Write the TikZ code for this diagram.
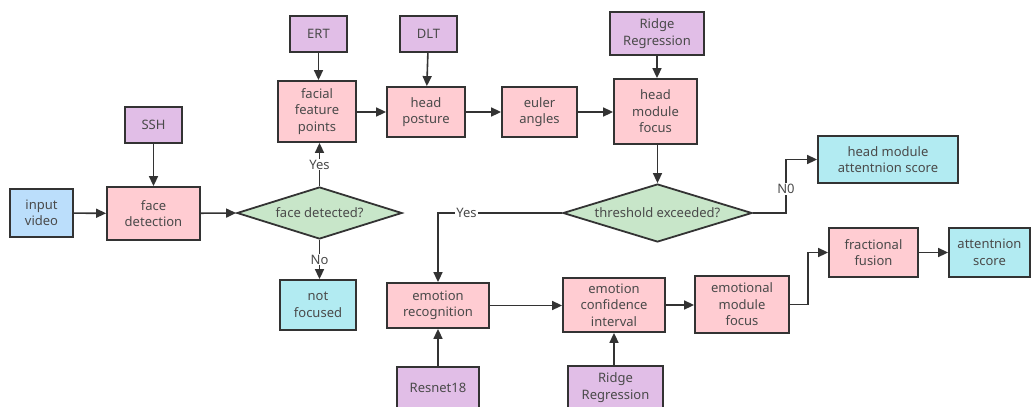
\documentclass[tikz,border=0pt]{standalone}
\usepackage{fontspec}
\setmainfont{Noto Sans}
\usetikzlibrary{shapes.geometric,arrows.meta}
\definecolor{pinkf}{HTML}{FFCCD2}
\definecolor{purpf}{HTML}{E1BEE7}
\definecolor{bluef}{HTML}{BBDEFB}
\definecolor{cyanf}{HTML}{B2EBF2}
\definecolor{greenf}{HTML}{C8E6C9}
\definecolor{edgec}{HTML}{333333}
\definecolor{txtc}{HTML}{4A4A4A}
\tikzset{
  base/.style={draw=edgec, line width=1.8pt, text=txtc, font=\fontsize{13}{16.5}\selectfont, align=center, inner sep=0pt},
  proc/.style={base, rectangle, fill=pinkf},
  tool/.style={base, rectangle, fill=purpf},
  inbox/.style={base, rectangle, fill=bluef},
  outbox/.style={base, rectangle, fill=cyanf},
  decide/.style={base, diamond, fill=greenf, aspect=3},
  arr/.style={draw=edgec, line width=1.6pt, -{Triangle[length=10pt,width=9pt]}},
  lbl/.style={fill=white, text=txtc, font=\fontsize{13}{14}\selectfont, inner sep=1pt}
}
\begin{document}
\begin{tikzpicture}[x=1pt,y=-1pt]
\useasboundingbox (0,0) rectangle (1034,407);
\clip (0,0) rectangle (1034,407);
\fill[white] (0,0) rectangle (1034,407);

\node[inbox, minimum width=63pt, minimum height=48pt] (input) at (41.5,213) {input\\video};
\node[proc, minimum width=93pt, minimum height=53pt] (fd) at (153.5,213.5) {face\\detection};
\node[tool, minimum width=57pt, minimum height=36pt] (ssh) at (153.5,125) {SSH};
\node[decide, minimum width=165pt, minimum height=52pt, label={[text=txtc, font=\fontsize{13}{14}\selectfont]center:face detected?}] (fdq) at (319.5,213) {};
\node[outbox, minimum width=76pt, minimum height=50pt] (nf) at (318,305) {not\\focused};
\node[proc, minimum width=78pt, minimum height=61pt] (ffp) at (317,111.5) {facial\\feature\\points};
\node[tool, minimum width=57pt, minimum height=36pt] (ert) at (318.5,34) {ERT};
\node[proc, minimum width=78pt, minimum height=50pt] (hp) at (426,112) {head\\posture};
\node[tool, minimum width=57pt, minimum height=36pt] (dlt) at (428.5,34) {DLT};
\node[proc, minimum width=75pt, minimum height=50pt] (ea) at (539.5,112) {euler\\angles};
\node[proc, minimum width=83pt, minimum height=65pt] (hmf) at (655.5,111.5) {head\\module\\focus};
\node[tool, minimum width=94pt, minimum height=43pt] (rr1) at (657,33.5) {Ridge\\Regression};
\node[decide, minimum width=189pt, minimum height=58pt, label={[text=txtc, font=\fontsize{13}{14}\selectfont]center:threshold exceeded?}] (thq) at (657.5,213) {};
\node[outbox, minimum width=140pt, minimum height=47pt] (hmas) at (888,159.5) {head module\\attentnion score};
\node[proc, minimum width=102pt, minimum height=45pt] (er) at (438,305.5) {emotion\\recognition};
\node[proc, minimum width=102pt, minimum height=54pt] (eci) at (614,305) {emotion\\confidence\\interval};
\node[proc, minimum width=94pt, minimum height=57pt] (emf) at (742,304.5) {emotional\\module\\focus};
\node[proc, minimum width=89pt, minimum height=49pt] (ff) at (873.5,252.5) {fractional\\fusion};
\node[outbox, minimum width=81pt, minimum height=49pt] (as) at (989.5,252.5) {attentnion\\score};
\node[tool, minimum width=82pt, minimum height=42pt] (rn) at (438,388) {Resnet18};
\node[tool, minimum width=95pt, minimum height=43pt] (rr2) at (615.5,387.5) {Ridge\\Regression};

\coordinate (c1) at (786,213);
\coordinate (c2) at (786,159.5);
\coordinate (c3) at (438,213);
\coordinate (c4) at (808,304.5);
\coordinate (c5) at (808,252.5);

\draw[arr] (input) -- (fd);
\draw[arr] (ssh) -- (fd);
\draw[arr] (fd) -- (fdq.west);
\draw[arr] (fdq.north) -- node[lbl]{Yes} (fdq.north |- ffp.south);
\draw[arr] (fdq.south) -- node[lbl]{No} (fdq.south |- nf.north);
\draw[arr] (ert) -- (ert |- ffp.north);
\draw[arr] (ffp.east |- hp) -- (hp);
\draw[arr] (dlt) -- (hp);
\draw[arr] (hp) -- (ea);
\draw[arr] (ea) -- (ea -| hmf.west);
\draw[arr] (rr1) -- (rr1 |- hmf.north);
\draw[arr] (hmf.south -| thq.north) -- (thq.north);
\draw[arr] (thq.east) -- (c1) -- node[lbl, pos=0.45]{N0} (c2) -- (hmas.west);
\draw[arr] (thq.west) -- node[lbl, pos=0.77]{Yes} (c3) -- (er.north);
\draw[arr] (er) -- (er -| eci.west);
\draw[arr] (rn) -- (er);
\draw[arr] (rr2.north -| eci.south) -- (eci.south);
\draw[arr] (eci) -- (eci -| emf.west);
\draw[arr] (emf) -- (c4) -- (c5) -- (ff.west);
\draw[arr] (ff) -- (as);
\end{tikzpicture}
\end{document}
